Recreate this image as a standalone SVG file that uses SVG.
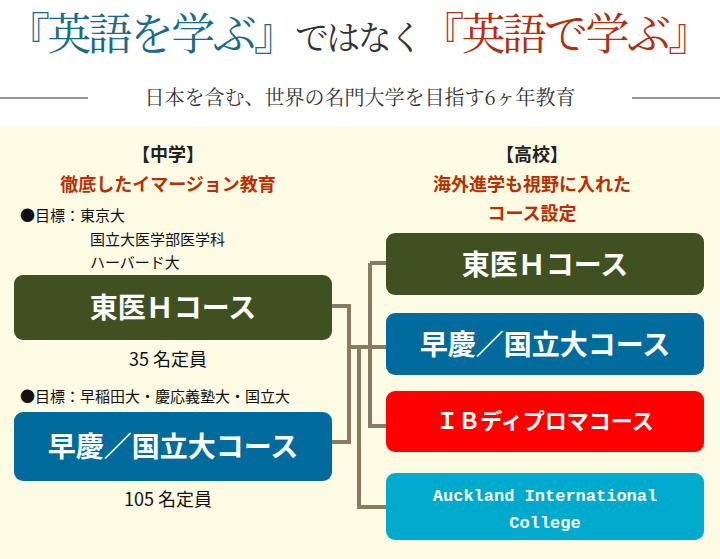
<svg xmlns="http://www.w3.org/2000/svg" width="720" height="559" viewBox="0 0 720 559">
<style>
.s{font-family:"Noto Serif CJK JP","Noto Sans CJK JP",serif}
.g{font-family:"Noto Sans CJK JP",sans-serif}
.bt{font-family:"Noto Sans CJK JP",sans-serif;font-weight:bold;fill:#fff;text-anchor:middle}
.c{stroke:#8b7a62;stroke-width:4;fill:none}
</style>
<rect width="720" height="559" fill="#fff"/>
<rect y="127" width="720" height="432" fill="#fdfbe4"/>
<text x="6" y="50" class="s" font-size="44" fill="#1a6b8a" textLength="706" lengthAdjust="spacing">『英語を学ぶ』<tspan fill="#333" font-size="34">ではなく</tspan><tspan fill="#b03010">『英語で学ぶ』</tspan></text>
<line x1="0" y1="98" x2="88" y2="98" stroke="#333" stroke-width="1.2"/>
<line x1="632" y1="98" x2="720" y2="98" stroke="#333" stroke-width="1.2"/>
<text x="360" y="105" class="s" font-size="20" fill="#333" text-anchor="middle">日本を含む、世界の名門大学を目指す6ヶ年教育</text>
<g id="labels" class="g" font-weight="bold" text-anchor="middle" font-size="18">
<text x="168" y="161" fill="#222">【中学】</text>
<text x="168" y="191" fill="#b83000">徹底したイマージョン教育</text>
<text x="532" y="161" fill="#222">【高校】</text>
<text x="532" y="191" fill="#b83000">海外進学も視野に入れた</text>
<text x="532" y="220" fill="#b83000">コース設定</text>
</g>
<g class="g" font-size="15" fill="#111">
<text x="20" y="221">●目標：東京大</text>
<text x="90" y="245">国立大医学部医学科</text>
<text x="90" y="268">ハーバード大</text>
<text x="20" y="402">●目標：早稲田大・慶応義塾大・国立大</text>
<text x="168" y="366" font-size="18" text-anchor="middle">35 名定員</text>
<text x="168" y="506" font-size="18" text-anchor="middle">105 名定員</text>
</g>
<g id="connectors">
<path class="c" d="M332 306H349V442H332M349 347H388M370 263H388M370 263V426H388M359 347V507H388"/>
</g>
<g id="n1"><rect x="14" y="275" width="318" height="65" rx="9" fill="#3f5120"/><text class="bt" x="173" y="318" font-size="28">東医Ｈコース</text></g>
<g id="n2"><rect x="14" y="412" width="318" height="69" rx="9" fill="#006b9c"/><text class="bt" x="173" y="457" font-size="28">早慶／国立大コース</text></g>
<g id="n3"><rect x="386" y="233" width="318" height="62" rx="9" fill="#3f5120"/><text class="bt" x="545" y="275" font-size="28">東医Ｈコース</text></g>
<g id="n4"><rect x="386" y="313" width="318" height="62" rx="9" fill="#006b9c"/><text class="bt" x="545" y="355" font-size="28">早慶／国立大コース</text></g>
<g id="n5"><rect x="386" y="391" width="318" height="61" rx="9" fill="#f00"/><text class="bt" x="545" y="429" font-size="22">ＩＢディプロマコース</text></g>
<g id="n6"><rect x="386" y="473" width="318" height="67" rx="9" fill="#00aacc"/><text class="bt" x="545" y="501" font-size="17" style="font-family:'Liberation Mono',monospace">Auckland International</text><text class="bt" x="545" y="528" font-size="17" style="font-family:'Liberation Mono',monospace">College</text></g>
</svg>
